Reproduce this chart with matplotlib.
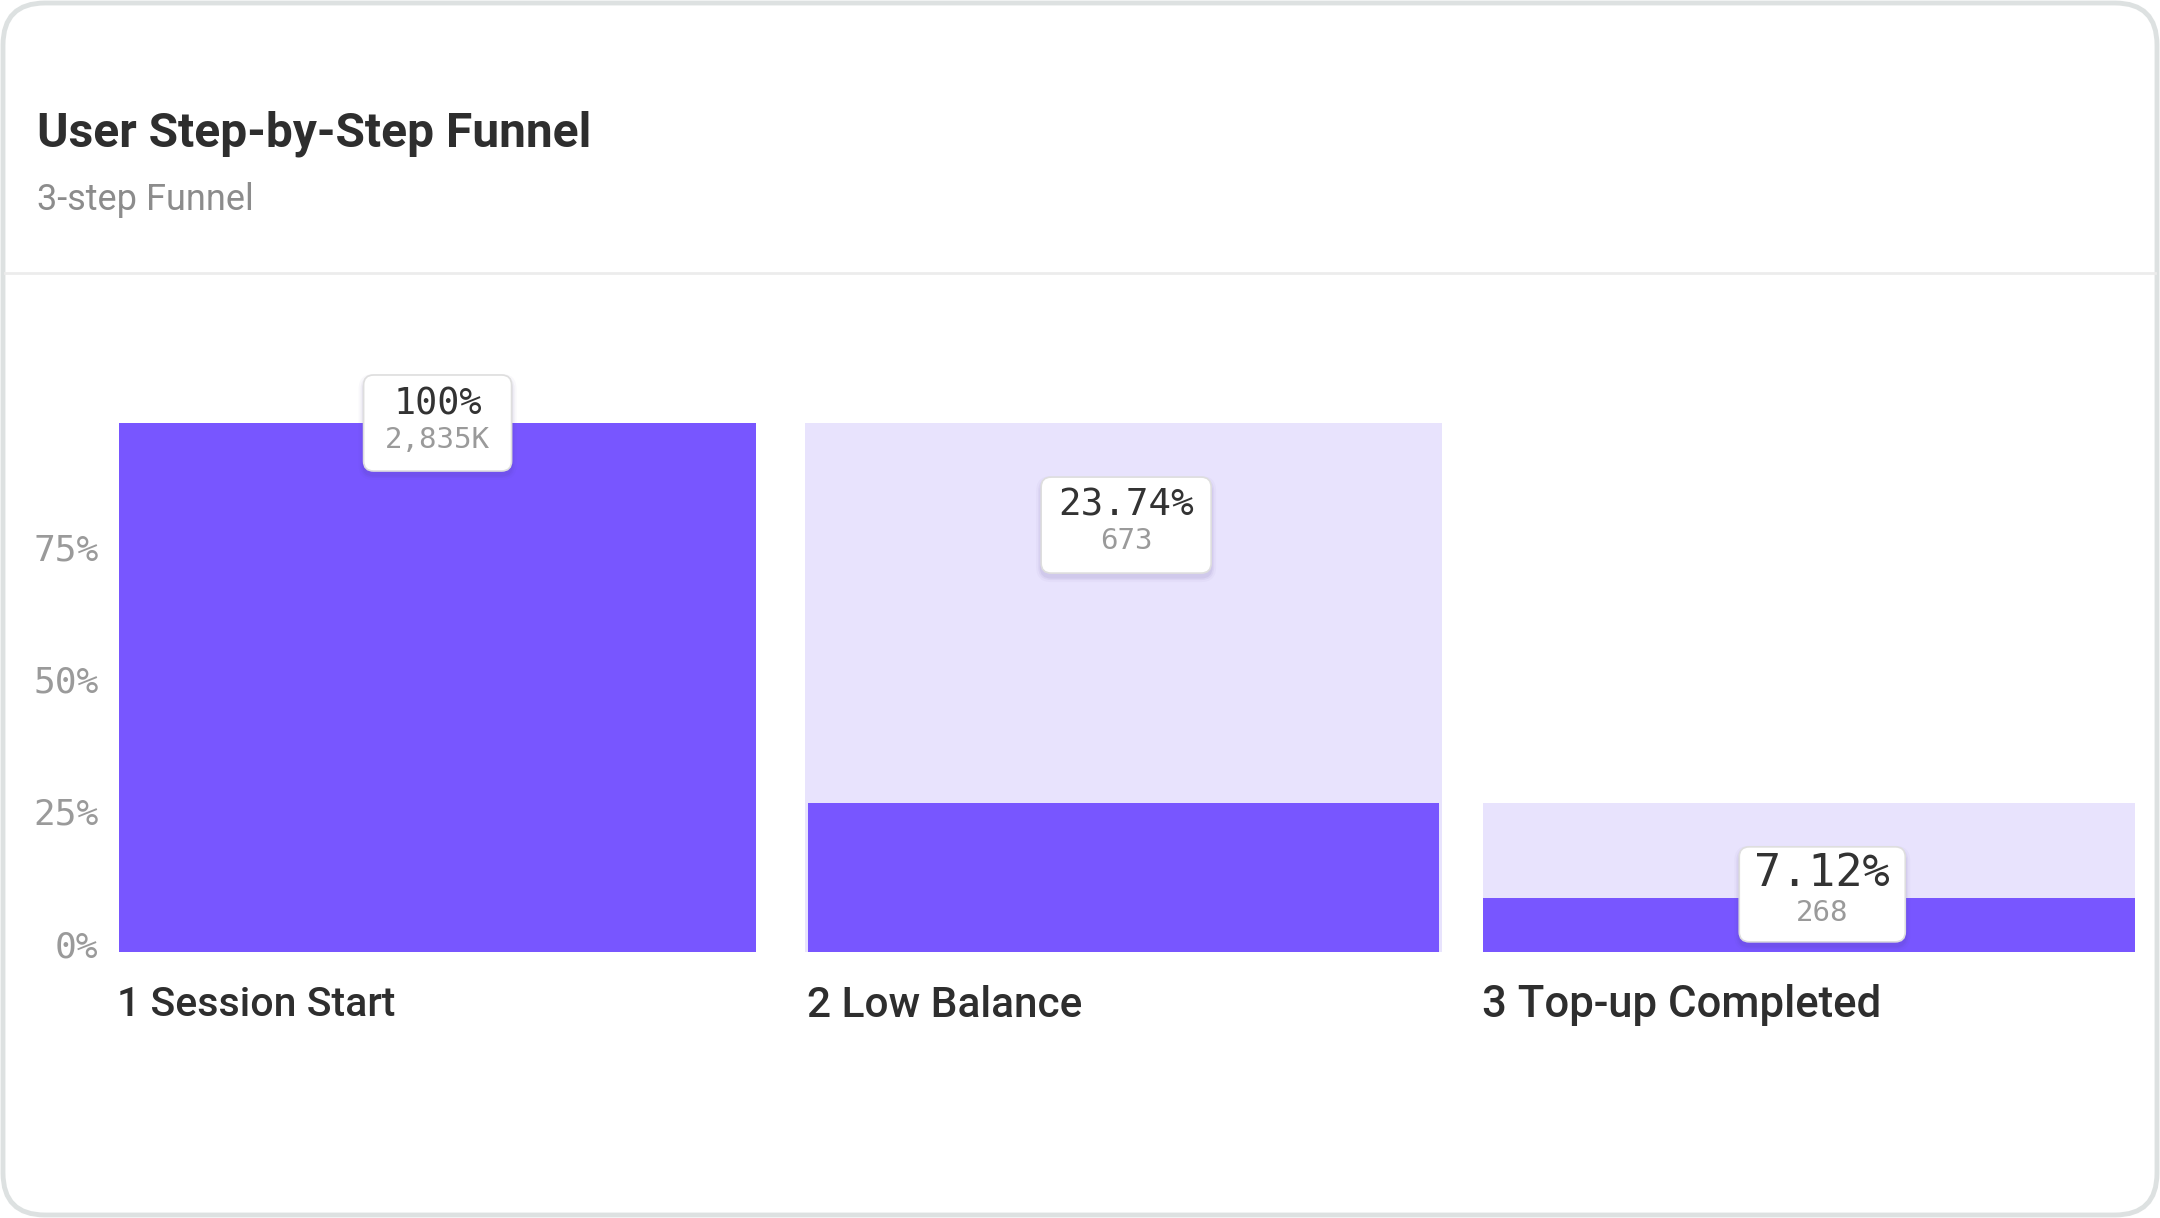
import matplotlib.pyplot as plt
import matplotlib.transforms as mtransforms
from matplotlib.patches import FancyBboxPatch

# funnel data
steps = ["1 Session Start", "2 Low Balance", "3 Top-up Completed"]
bar_pct = [100, 28.2, 10.2]      # purple bar height (% of axis)
prev_pct = [100, 100, 28.2]      # lavender backdrop = previous step
pct_labels = ["100%", "23.74%", "7.12%"]
count_labels = ["2,835K", "673", "268"]
ytick_vals = [0, 25, 50, 75]

PURPLE = "#7856ff"
LAVENDER = "#e8e3fd"
DARK = "#2e2e2e"
GREY = "#9a9a9a"
SANS = ["Roboto", "DejaVu Sans"]
MONO = ["DejaVu Sans Mono"]

W, H, DPI = 2160, 1218, 100
fig = plt.figure(figsize=(W / DPI, H / DPI), dpi=DPI)

# --- card frame, header (pixel coordinates) ---
bg = fig.add_axes([0, 0, 1, 1])
bg.set_xlim(0, W)
bg.set_ylim(H, 0)
bg.axis("off")
bg.add_patch(FancyBboxPatch((3, 3), W - 6, H - 6,
                            boxstyle="round,pad=0,rounding_size=42",
                            fc="white", ec="#dde1e1", lw=3.5))
bg.plot([5, W - 5], [273, 273], color="#ececec", lw=2)
bg.text(37, 134, "User Step-by-Step Funnel", fontsize=34.5, fontweight="bold",
        color=DARK, va="center", family=SANS)
bg.text(37, 200, "3-step Funnel", fontsize=26, color="#8c8c8c",
        va="center", family=SANS)

# --- funnel bars ---
ax = fig.add_axes([118 / W, (H - 952) / H, (2135 - 118) / W, 529 / H])
ax.set_xlim(-0.466, 2.475)
ax.set_ylim(0, 100)
x = list(range(len(steps)))
bg_widths = [0.93, 0.93, 0.95]
fg_widths = [0.93, 0.92, 0.95]
ax.bar(x, prev_pct, width=bg_widths, color=LAVENDER, zorder=1)
ax.bar(x, bar_pct, width=fg_widths, color=PURPLE, zorder=2)

for s in ["top", "right", "left", "bottom"]:
    ax.spines[s].set_visible(False)
ax.set_xticks([])
ax.set_yticks(ytick_vals)
ax.set_yticklabels([f"{v}%" for v in ytick_vals], family=MONO, fontsize=26,
                   color=GREY, va="baseline")
ax.tick_params(axis="y", length=0, pad=14)
shift = mtransforms.ScaledTranslation(0, -5 / DPI, fig.dpi_scale_trans)
for lab in ax.get_yticklabels():
    lab.set_transform(lab.get_transform() + shift)

label_sizes = [29.5, 30.5, 31.5]
for i, name in enumerate(steps):
    ax.text(i - fg_widths[i] / 2 - 0.002, -10.1, name, fontsize=label_sizes[i],
            fontweight="medium", color=DARK, va="center", ha="left", family=SANS)

# --- tooltip boxes ---
tip_y = [100, 80.7, 10.9]
tip_dx = [0, 0.004, 0.019]
tip_size = [(148, 96), (170, 96), (166, 95)]
tip_font = [26.5, 27, 32.5]
tip_off = [(19, -17), (19.5, -16), (21, -19)]

for i in x:
    tr = mtransforms.IdentityTransform() + mtransforms.ScaledTranslation(
        i + tip_dx[i], tip_y[i], ax.transData)
    bw, bh = tip_size[i]
    # soft shadow
    for k, a in [(10, 0.03), (6, 0.05), (3, 0.07)]:
        ax.add_patch(FancyBboxPatch((-bw / 2 - k / 2, -bh / 2 - k / 2 - 4), bw + k, bh + k,
                                    boxstyle=f"round,pad=0,rounding_size={10 + k / 2}",
                                    fc="#4b3f8c", ec="none", alpha=a,
                                    transform=tr, clip_on=False, zorder=4))
    ax.add_patch(FancyBboxPatch((-bw / 2, -bh / 2), bw, bh,
                                boxstyle="round,pad=0,rounding_size=10",
                                fc="white", ec="#dedede", lw=1.2,
                                transform=tr, clip_on=False, zorder=5))
    up, down = tip_off[i]
    ax.text(0, up, pct_labels[i], transform=tr, ha="center", va="center",
            fontsize=tip_font[i], color="#333333", family=MONO, zorder=6)
    ax.text(0, down, count_labels[i], transform=tr, ha="center", va="center",
            fontsize=21, color=GREY, family=MONO, zorder=6)

fig.savefig("out.png", dpi=DPI)
